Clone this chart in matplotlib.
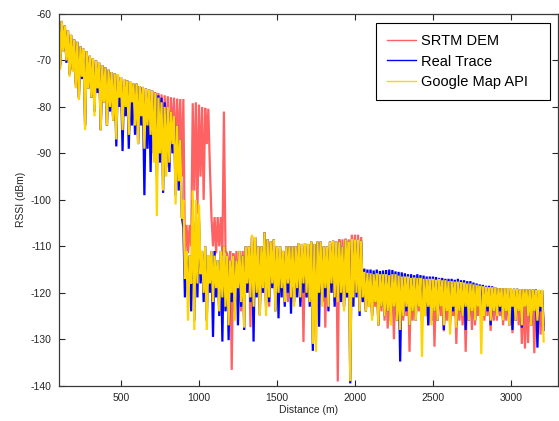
import numpy as np
import matplotlib
matplotlib.use("Agg")
import matplotlib.pyplot as plt

plt.rcParams['font.family'] = ['Liberation Sans', 'DejaVu Sans']
plt.rcParams['axes.unicode_minus'] = False

# RSSI samples every 10 m starting at 100 m
start_m = 100
step_m = 10

srtm_dem = [
    -60.5, -71.5, -61.5, -68, -62.5, -70, -63.5, -73, -64.5, -72,
    -65.5, -75.5, -66, -78, -67, -74, -67.5, -84, -68, -76,
    -69, -78, -69.5, -81, -70, -77, -70.5, -85, -71, -79,
    -71.5, -84, -72, -80, -72.5, -83, -72.8, -86, -73, -79,
    -73.6, -85, -74, -81, -74.3, -86, -74.6, -80, -75, -84,
    -75, -87, -75.5, -83, -75.7, -88, -76, -85, -76.2, -86,
    -76.5, -85, -76.8, -88, -77, -86, -77.3, -90, -77.5, -87,
    -77.7, -93, -77.9, -86, -78, -92, -78.2, -89, -78.3, -95,
    -78.3, -112, -105.4, -111.5, -105.4, -110, -79.2, -98, -79, -103,
    -79.5, -95, -80, -100, -80.2, -88, -80.4, -93, -103.6, -110,
    -103.7, -111.5, -103.7, -110, -103.7, -112, -81, -111, -111.5, -118,
    -111, -136.6, -111.5, -120, -111, -118, -111.5, -124, -111, -121,
    -110, -120, -110, -127.4, -107.8, -122, -108, -120, -110, -123,
    -110, -120, -107, -122, -108.5, -123, -109, -119, -108.5, -121,
    -110, -120, -110, -119, -111, -122, -110, -122, -110, -121,
    -110, -121, -110, -119, -109.3, -122, -109.5, -130.6, -109.3, -121,
    -109.5, -122, -109, -124, -109.5, -130.5, -109, -121, -109, -122,
    -110, -127.5, -110, -122, -109, -120, -108.8, -122, -109, -139.1,
    -108.5, -121, -108.5, -123, -108.3, -121, -108.5, -124, -107.5, -121,
    -107.5, -120, -107.5, -123, -108, -122, -115.8, -124, -116, -123,
    -116, -125, -116.2, -123, -116, -127, -116.3, -124, -116.2, -126,
    -116.3, -127.7, -116.3, -125, -116.5, -130, -116.5, -126, -116.5, -124,
    -116.8, -126, -116.8, -125, -117, -132.7, -117, -126, -117, -125,
    -117, -124, -117, -126, -117.2, -125, -117.3, -127, -117.3, -126,
    -117.3, -131.6, -117.5, -126, -117.5, -125, -117.6, -128.3, -117.6, -126,
    -117.8, -127, -117.8, -125, -118, -131, -118, -126, -118, -127,
    -118.2, -132.7, -118.3, -126, -118.3, -128, -118.5, -127, -118.5, -125,
    -118.6, -127, -118.7, -126, -118.8, -125, -118.8, -128.2, -118.9, -126,
    -119, -126, -119, -125, -119.1, -127, -119.1, -126, -119.2, -127,
    -119.2, -128.7, -119.2, -126, -119.3, -127, -119.3, -131, -119.3, -132,
    -119.4, -130.8, -119.4, -127, -119.5, -133, -119.5, -126, -119.5, -129,
    -119.5, -127,
]

real_trace = [
    -60.5, -71, -61.5, -68, -62.5, -70.5, -63.5, -73, -64.5, -72,
    -65.5, -75, -66, -78, -67, -74, -67.5, -84, -68, -76,
    -69, -78, -69.5, -81, -70, -77, -70.5, -85, -71, -79,
    -71.5, -84, -72, -81, -72.5, -83, -72.8, -88.5, -73, -80,
    -73.6, -89.5, -74, -82, -74.3, -89, -74.6, -84, -75, -86,
    -75, -88, -75.5, -84, -75.7, -99, -76, -89, -76.2, -94,
    -76.5, -90, -77, -95, -77.5, -92, -78, -98.5, -79, -93,
    -80, -94, -81, -90, -82, -99, -84, -98, -87, -103.6,
    -106, -121, -111, -120.7, -112, -124, -100, -126, -105, -121,
    -104, -118, -111, -122, -110, -126, -112, -120, -111, -129.5,
    -111, -121, -113, -125, -111, -130.5, -110, -124, -112, -130.2,
    -113, -122, -112, -124, -113, -127, -111, -123, -112, -128,
    -110, -120, -110, -122, -107.9, -130.5, -108, -121, -110, -124.8,
    -110, -120, -107, -123, -108.5, -122, -109, -119, -108.5, -124,
    -110, -125.5, -110, -121, -111, -123, -110, -120, -110, -124.5,
    -110, -122, -110, -121, -109.3, -123, -109.5, -120, -109.3, -121,
    -109.5, -123, -109, -132.5, -109.5, -124, -109, -127.3, -109, -122,
    -110, -121, -110, -124, -109, -120, -108.8, -123, -109, -121,
    -109, -122, -110, -123, -108.5, -121, -109, -139.5, -108.5, -123,
    -108.5, -121, -108.5, -125, -108.8, -122, -114.8, -124, -115, -122,
    -115, -125, -115.2, -122, -115, -127, -115.3, -123, -115.2, -125,
    -115.1, -124, -115, -126, -115.1, -123, -115.4, -126, -115.5, -134.8,
    -115.6, -125, -115.8, -124, -116, -127, -116, -124, -116.2, -126,
    -116, -123, -116.2, -126, -116.3, -125, -116.5, -127, -116.5, -126,
    -116.5, -124, -116.6, -126, -116.8, -123, -116.8, -128, -117, -124,
    -117, -126, -117, -124, -117.2, -127, -117, -124, -117.3, -125,
    -117.3, -128, -117.5, -126, -117.5, -124, -117.8, -126, -118, -123,
    -118.2, -125, -118.3, -125, -118.5, -124, -118.5, -127, -118.6, -124,
    -118.8, -125, -119, -124, -119, -126, -119, -124, -119, -127,
    -119, -128, -119.1, -126, -119.1, -124, -119.2, -127.5, -119.2, -123,
    -119.2, -125, -119.3, -127, -119.3, -124, -119.3, -131.8, -119.4, -124,
    -119.4, -128,
]

google_map_api = [
    -60.5, -72, -61.5, -68, -62.5, -70, -63.5, -73.5, -64.5, -72.5,
    -65.5, -76, -66, -78.5, -67, -73.5, -67.5, -85, -68, -76,
    -69, -78, -69.5, -82, -70, -76, -70.5, -85, -71, -79,
    -71.5, -84, -72, -80, -72.5, -83, -72.8, -87, -73, -78,
    -73.6, -85, -74, -80, -74.3, -86, -74.6, -79, -75, -84,
    -75, -88, -75.5, -82, -75.7, -89, -76, -84, -76.2, -86,
    -76.5, -92, -77, -103.5, -78, -90, -79, -98, -80, -95,
    -80, -92, -81, -88, -82, -101, -84, -96, -87, -104,
    -100, -117, -111, -126, -112, -118, -98, -128, -100, -118,
    -101, -116, -111, -120, -110, -128, -112, -118, -111, -122,
    -112, -119, -113, -124, -111, -121, -110, -123, -112, -127,
    -113, -120, -112, -126, -113, -119, -111, -122, -112, -127.5,
    -110, -118, -110, -121, -107.5, -123, -108, -120, -110, -125,
    -110, -119, -107, -125, -108.5, -121, -109, -118, -108.5, -124,
    -110, -120, -110, -119, -111, -122, -110, -118, -110, -121,
    -110, -123, -110, -119, -109.3, -121, -109.5, -118, -109.3, -120,
    -109.5, -122, -109, -131, -109.5, -132.7, -109, -120, -109, -123,
    -110, -119, -110, -123, -109, -118, -108.8, -121, -109, -122,
    -109, -120, -110, -124, -108.5, -120, -109, -139, -108.5, -121,
    -108.5, -120, -108.5, -124, -108.8, -121, -115.5, -124, -115.7, -123,
    -115.8, -126, -116, -122, -115.8, -127, -116, -123, -116, -125,
    -116, -124, -116.2, -127, -116, -123, -116, -126, -116.3, -128,
    -116.5, -125, -116.5, -123, -116.5, -127, -116.8, -124, -116.7, -126,
    -116.8, -123, -116.8, -133.8, -117, -125, -117, -123, -117, -127,
    -117, -124, -117.2, -126, -117, -123, -117.3, -127, -117.3, -124,
    -117.5, -129, -117.5, -123, -117.6, -127.5, -117.6, -124, -117.7, -125,
    -117.8, -123, -118, -126, -118, -124, -118.2, -126, -118.3, -123,
    -118.5, -133.2, -118.6, -125, -118.7, -123, -118.8, -126, -118.8, -124,
    -118.8, -125, -119, -123, -119, -126, -119, -124, -119, -127,
    -119, -123, -119.1, -126, -119.1, -124, -119.2, -127, -119.2, -123,
    -119.2, -125, -119.3, -127, -119.3, -124, -119.3, -126, -119.4, -123,
    -119.4, -130.5,
]

series_names = ["SRTM DEM", "Real Trace", "Google Map API"]
series_colors = ["#FF6262", "#0000FF", "#FFD500"]
x_ticks = [500, 1000, 1500, 2000, 2500, 3000]
y_ticks = [-140, -130, -120, -110, -100, -90, -80, -70, -60]

W, H = 559, 421
fig = plt.figure(figsize=(W / 100, H / 100), dpi=100)
L, R, T, B = 58.6, 557.7, 14.0, 385.7
ax = fig.add_axes([L / W, (H - B) / H, (R - L) / W, (B - T) / H])

handles = []
for vals, name, col in zip([srtm_dem, real_trace, google_map_api], series_names, series_colors):
    d = start_m + step_m * np.arange(len(vals))
    ax.plot(d, vals, color=col, lw=1.6, solid_joinstyle='miter')
    handles.append(plt.Line2D([], [], color=col, lw=1.0, label=name))

ax.set_xlim(100, 3300)
ax.set_ylim(-140, -60)
ax.set_xticks(x_ticks)
ax.set_yticks(y_ticks)
ax.tick_params(direction='in', top=True, right=True, length=4, width=0.8,
               labelsize=7.5, colors='#262626', pad=5)
for s in ax.spines.values():
    s.set_color('#3a3a3a')
    s.set_linewidth(0.9)
ax.set_xlabel("Distance (m)", fontsize=7.5, color='#262626', labelpad=2)
ax.set_ylabel("RSSI (dBm)", fontsize=7.5, color='#262626', labelpad=3)

x0 = (376 - L) / (R - L)
x1 = (550 - L) / (R - L)
y1 = (B - 23) / (B - T)
y0 = (B - 95) / (B - T)
leg = ax.legend(handles=handles, loc='upper left', bbox_to_anchor=(x0, y0, x1 - x0, y1 - y0),
                mode='expand', borderaxespad=0,
                fancybox=False, edgecolor='black', framealpha=1, fontsize=10.5,
                handlelength=2.0, handletextpad=0.35, labelspacing=0.45, borderpad=0.75)
leg.get_frame().set_linewidth(0.8)

fig.savefig("out.png", dpi=100)
